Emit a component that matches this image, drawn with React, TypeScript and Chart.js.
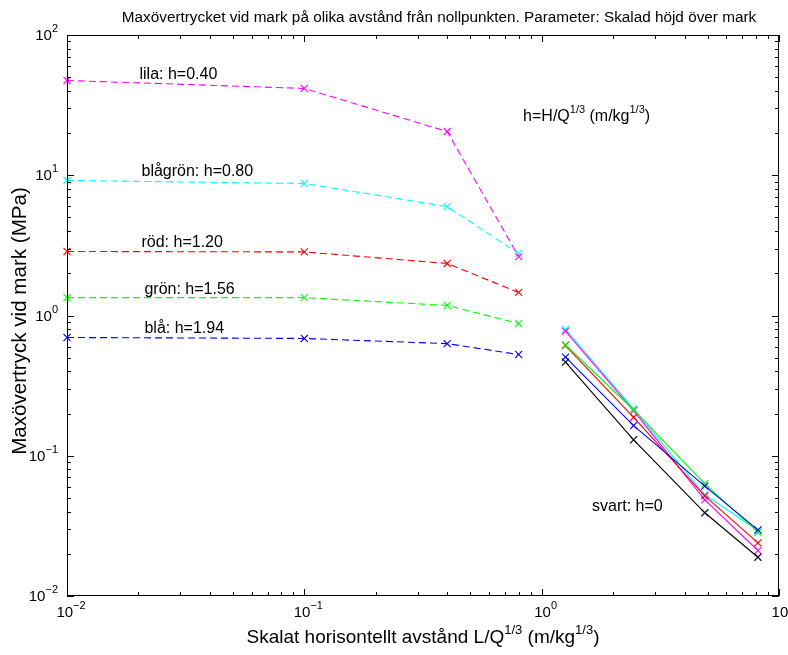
import { useEffect, useRef } from 'react';
import { Chart, registerables } from 'chart.js';
Chart.register(...registerables);

// Dashed series (calculated above ground), x in m/kg^(1/3)
const dashedX = [0.01, 0.1, 0.4, 0.8];
const lilaDashed = [47.4, 41.6, 20.5, 2.63];
const blagronDashed = [9.18, 8.73, 5.98, 2.77];
const rodDashed = [2.86, 2.84, 2.35, 1.46];
const gronDashed = [1.34, 1.34, 1.18, 0.877];
const blaDashed = [0.697, 0.686, 0.63, 0.527];

// Solid series (measured at ground)
const solidX = [1.26, 2.44, 4.87, 8.15];
const svartSolid = [0.465, 0.13, 0.0392, 0.0189];
const blaSolid = [0.505, 0.164, 0.0607, 0.0296];
const gronSolid = [0.618, 0.212, 0.0631, 0.0285];
const rodSolid = [0.611, 0.188, 0.0518, 0.0239];
const lilaSolid = [0.773, 0.21, 0.0485, 0.0211];
const blagronSolid = [0.795, 0.216, 0.0527, 0.0293];

const xTickExps = [-2, -1, 0, 1];
const yTickExps = [-2, -1, 0, 1, 2];

const titleText = 'Maxövertrycket vid mark på olika avstånd från nollpunkten. Parameter: Skalad höjd över mark';
const yTitleText = 'Maxövertryck vid mark (MPa)';

type Part = [string, boolean];
const xTitleParts: Part[] = [['Skalat horisontellt avstånd L/Q', false], ['1/3', true], [' (m/kg', false], ['1/3', true], [')', false]];

// annotation texts anchored in data coordinates
const annoTexts: Part[][] = [
  [['lila: h=0.40', false]],
  [['blågrön: h=0.80', false]],
  [['röd: h=1.20', false]],
  [['grön: h=1.56', false]],
  [['blå: h=1.94', false]],
  [['h=H/Q', false], ['1/3', true], [' (m/kg', false], ['1/3', true], [')', false]],
  [['svart: h=0', false]],
];
const annoX = [0.0202, 0.0206, 0.0206, 0.0212, 0.0212, 0.835, 1.63];
const annoY = [52, 10.7, 3.3, 1.53, 0.8, 26.2, 0.0437];

const FONT = '"Liberation Sans", Arial, Helvetica, sans-serif';

function drawParts(ctx: CanvasRenderingContext2D, parts: Part[], x: number, y: number, align: 'left' | 'center' | 'right', size: number, supSize: number, raise: number) {
  ctx.textBaseline = 'middle';
  ctx.textAlign = 'left';
  let total = 0;
  const widths = parts.map(([t, sup]) => {
    ctx.font = `${sup ? supSize : size}px ${FONT}`;
    const w = ctx.measureText(t).width;
    total += w;
    return w;
  });
  let cx = align === 'left' ? x : align === 'center' ? x - total / 2 : x - total;
  parts.forEach(([t, sup], i) => {
    ctx.font = `${sup ? supSize : size}px ${FONT}`;
    ctx.fillText(t, cx, sup ? y - raise : y);
    cx += widths[i];
  });
}

const lines = (xs: number[], ys: number[]) => xs.map((x, i) => ({ x, y: ys[i] }));

const frame = {
  id: 'matlabFrame',
  afterDraw(chart: any) {
    const ctx: CanvasRenderingContext2D = chart.ctx;
    const { left, right, top, bottom } = chart.chartArea;
    const xs = chart.scales.x;
    const ys = chart.scales.y;
    ctx.save();
    ctx.strokeStyle = '#000';
    ctx.fillStyle = '#000';
    ctx.lineWidth = 1;
    ctx.strokeRect(left + 0.5, top + 0.5, right - left - 1, bottom - top - 1);
    ctx.beginPath();
    for (const e of xTickExps) {
      for (let k = 1; k <= 9; k++) {
        const v = k * Math.pow(10, e);
        if (v > 10.0001) break;
        const px = Math.round(xs.getPixelForValue(v)) + 0.5;
        const len = k === 1 ? 7 : 4;
        ctx.moveTo(px, bottom); ctx.lineTo(px, bottom - len);
        ctx.moveTo(px, top); ctx.lineTo(px, top + len);
      }
    }
    for (const e of yTickExps) {
      for (let k = 1; k <= 9; k++) {
        const v = k * Math.pow(10, e);
        if (v > 100.0001) break;
        const py = Math.round(ys.getPixelForValue(v)) + 0.5;
        const len = k === 1 ? 7 : 4;
        ctx.moveTo(left, py); ctx.lineTo(left + len, py);
        ctx.moveTo(right, py); ctx.lineTo(right - len, py);
      }
    }
    ctx.stroke();
    for (const e of xTickExps) {
      const px = xs.getPixelForValue(Math.pow(10, e));
      drawParts(ctx, [['10', false], [String(e).replace('-', '\u2212'), true]], px + 4, bottom + 17, 'center', 15, 11, 7);
    }
    for (const e of yTickExps) {
      const py = ys.getPixelForValue(Math.pow(10, e));
      drawParts(ctx, [['10', false], [String(e).replace('-', '\u2212'), true]], left - 9, py + 1, 'right', 15, 11, 7);
    }
    drawParts(ctx, [[titleText, false]], 439, 18, 'center', 15.3, 15.3, 0);
    drawParts(ctx, xTitleParts, (left + right) / 2, bottom + 42, 'center', 19, 13, 8);
    ctx.save();
    ctx.translate(20, 321);
    ctx.rotate(-Math.PI / 2);
    drawParts(ctx, [[yTitleText, false]], 0, 0, 'center', 20.6, 20.6, 0);
    ctx.restore();
    annoTexts.forEach((parts, i) => {
      drawParts(ctx, parts, xs.getPixelForValue(annoX[i]), ys.getPixelForValue(annoY[i]), 'left', 16, 11, 7);
    });
    ctx.restore();
  },
};

export default function App() {
  const ref = useRef<HTMLCanvasElement>(null);
  useEffect(() => {
    document.body.style.margin = '0';
    const mk = (label: string, xs: number[], ys: number[], color: string, dashed: boolean) => ({
      label,
      data: lines(xs, ys),
      borderColor: color,
      backgroundColor: color,
      borderWidth: 1.1,
      borderDash: dashed ? [7, 4] : [],
      pointStyle: 'crossRot',
      pointRadius: 5,
      pointBorderWidth: 1.1,
      pointBorderColor: color,
      tension: 0,
      fill: false,
      clip: false,
    });
    const chart = new Chart(ref.current!, {
      type: 'line',
      data: {
        datasets: [
          mk('lila', dashedX, lilaDashed, '#ff00ff', true),
          mk('blågrön', dashedX, blagronDashed, '#00ffff', true),
          mk('röd', dashedX, rodDashed, '#ff0000', true),
          mk('grön', dashedX, gronDashed, '#00ff00', true),
          mk('blå', dashedX, blaDashed, '#0000ff', true),
          mk('svart', solidX, svartSolid, '#000000', false),
          mk('blå mark', solidX, blaSolid, '#0000ff', false),
          mk('grön mark', solidX, gronSolid, '#00ff00', false),
          mk('röd mark', solidX, rodSolid, '#ff0000', false),
          mk('lila mark', solidX, lilaSolid, '#ff00ff', false),
          mk('blågrön mark', solidX, blagronSolid, '#00ffff', false),
        ] as any,
      },
      options: {
        responsive: false,
        animation: false,
        devicePixelRatio: 1,
        layout: { padding: { left: 67, top: 35, right: 9, bottom: 59 } },
        plugins: { legend: { display: false }, tooltip: { enabled: false } },
        scales: {
          x: { type: 'logarithmic', min: 0.01, max: 10, display: false },
          y: { type: 'logarithmic', min: 0.01, max: 100, display: false },
        },
      },
      plugins: [frame],
    });
    return () => chart.destroy();
  }, []);
  return (
    <div style={{ width: 788, height: 655, background: '#fff' }}>
      <canvas ref={ref} width={788} height={655} />
    </div>
  );
}
